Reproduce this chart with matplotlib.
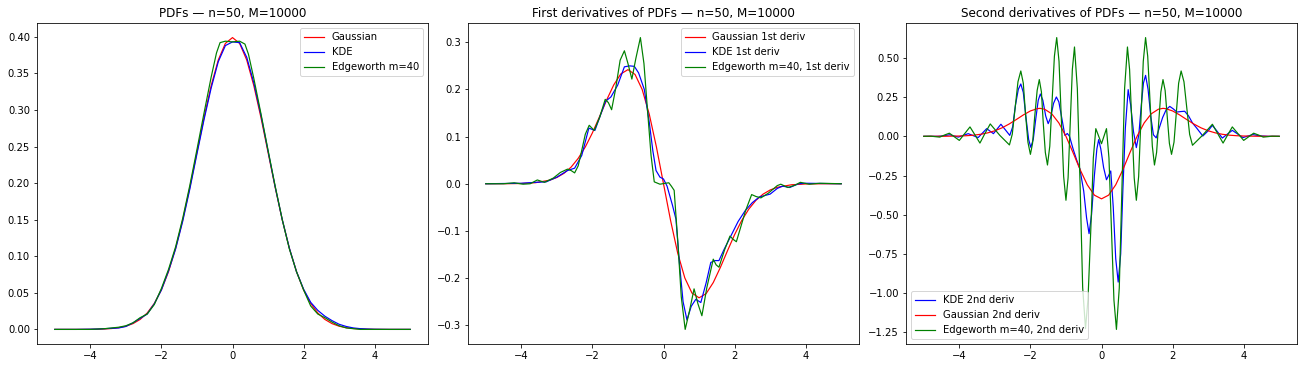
import matplotlib
matplotlib.use("Agg")
import matplotlib.pyplot as plt

# ---- panel 1: PDFs ----
x_pdf = [-5.0, -4.4, -4.0, -3.8, -3.6, -3.4, -3.2, -3.0, -2.8, -2.6, -2.4, -2.2, -2.0, -1.8,
         -1.6, -1.4, -1.2, -1.0, -0.8, -0.6, -0.4, -0.2, 0.0, 0.2, 0.4, 0.6, 0.8, 1.0, 1.2,
         1.4, 1.6, 1.8, 2.0, 2.2, 2.4, 2.6, 2.8, 3.0, 3.2, 3.4, 3.6, 3.8, 4.0, 4.4, 5.0]
gauss_pdf = [0.0, 0.0, 0.0001, 0.0003, 0.0006, 0.0012, 0.0024, 0.0044, 0.0079, 0.0136, 0.0224,
             0.0355, 0.0540, 0.0790, 0.1109, 0.1497, 0.1942, 0.2420, 0.2897, 0.3332, 0.3683,
             0.3910, 0.3989, 0.3910, 0.3683, 0.3332, 0.2897, 0.2420, 0.1942, 0.1497, 0.1109,
             0.0790, 0.0540, 0.0355, 0.0224, 0.0136, 0.0079, 0.0044, 0.0024, 0.0012, 0.0006,
             0.0003, 0.0001, 0.0, 0.0]
kde_pdf = [0.0, 0.0, 0.0003, 0.0005, 0.001, 0.0015, 0.002, 0.004, 0.009, 0.015, 0.021, 0.035,
           0.054, 0.080, 0.110, 0.148, 0.192, 0.240, 0.287, 0.330, 0.366, 0.388, 0.393, 0.392,
           0.372, 0.337, 0.293, 0.244, 0.195, 0.150, 0.111, 0.079, 0.055, 0.037, 0.026, 0.018,
           0.012, 0.007, 0.004, 0.002, 0.001, 0.0005, 0.0002, 0.0, 0.0]
x_edge_pdf = [-5.0, -4.0, -3.6, -3.4, -3.2, -3.0, -2.8, -2.6, -2.4, -2.2, -2.0, -1.8, -1.6,
              -1.4, -1.2, -1.0, -0.8, -0.6, -0.45, -0.35, -0.2, 0.0, 0.2, 0.35, 0.45, 0.6,
              0.8, 1.0, 1.2, 1.4, 1.6, 1.8, 2.0, 2.2, 2.4, 2.6, 2.8, 3.0, 3.2, 3.4, 3.6, 4.0, 5.0]
edge_pdf = [0.0, 0.0, 0.001, 0.002, 0.003, 0.005, 0.009, 0.016, 0.021, 0.034, 0.056, 0.082,
            0.113, 0.152, 0.197, 0.246, 0.296, 0.345, 0.378, 0.392, 0.394, 0.393, 0.394, 0.390,
            0.376, 0.343, 0.295, 0.245, 0.196, 0.150, 0.110, 0.079, 0.054, 0.032, 0.021, 0.016,
            0.010, 0.005, 0.002, 0.001, 0.0, 0.0, 0.0]

# ---- panel 2: first derivatives ----
x_d1 = [-5.0, -4.4, -4.0, -3.6, -3.2, -3.0, -2.8, -2.6, -2.4, -2.2, -2.0, -1.8, -1.6, -1.4,
        -1.2, -1.0, -0.8, -0.6, -0.4, -0.2, 0.0, 0.2, 0.4, 0.6, 0.8, 1.0, 1.2, 1.4, 1.6,
        1.8, 2.0, 2.2, 2.4, 2.6, 2.8, 3.0, 3.2, 3.6, 4.0, 4.4, 5.0]
gauss_d1 = [0.0, 0.0001, 0.0005, 0.0022, 0.0076, 0.0133, 0.0221, 0.0352, 0.0538, 0.0780,
            0.1080, 0.1422, 0.1775, 0.2096, 0.2330, 0.2420, 0.2318, 0.1999, 0.1473, 0.0782,
            0.0, -0.0782, -0.1473, -0.1999, -0.2318, -0.2420, -0.2330, -0.2096, -0.1775,
            -0.1422, -0.1080, -0.0780, -0.0538, -0.0352, -0.0221, -0.0133, -0.0076, -0.0022,
            -0.0005, -0.0001, 0.0]
x_kde_d1 = [-5.0, -4.0, -3.6, -3.3, -3.0, -2.7, -2.5, -2.3, -2.1, -1.93, -1.8, -1.63, -1.48,
            -1.29, -1.10, -0.95, -0.82, -0.7, -0.54, -0.4, -0.3, -0.21, -0.1, 0.0, 0.1, 0.25,
            0.35, 0.45, 0.55, 0.66, 0.78, 0.91, 1.05, 1.2, 1.33, 1.45, 1.56, 1.7, 1.9, 2.1,
            2.3, 2.5, 2.7, 3.0, 3.2, 3.35, 3.55, 3.8, 4.0, 5.0]
kde_d1 = [0.0, 0.001, 0.003, 0.004, 0.014, 0.028, 0.033, 0.06, 0.118, 0.113, 0.14, 0.175,
          0.184, 0.209, 0.248, 0.25, 0.249, 0.235, 0.20, 0.13, 0.07, 0.028, 0.014, 0.01,
          -0.005, -0.045, -0.075, -0.17, -0.25, -0.289, -0.26, -0.245, -0.252, -0.21, -0.167,
          -0.163, -0.163, -0.14, -0.11, -0.08, -0.057, -0.04, -0.028, -0.022, -0.01, -0.005,
          -0.008, 0.0, 0.001, 0.0]
x_edge_d1 = [-5.0, -4.5, -4.2, -3.95, -3.75, -3.55, -3.35, -3.1, -2.9, -2.7, -2.6, -2.5, -2.4,
             -2.32, -2.2, -2.09, -1.95, -1.8, -1.64, -1.55, -1.46, -1.35, -1.22, -1.10, -1.0,
             -0.89, -0.78, -0.65, -0.55, -0.45, -0.35, -0.26, -0.1, 0.05, 0.15, 0.22, 0.30,
             0.40, 0.50, 0.61, 0.73, 0.86, 0.97, 1.08, 1.22, 1.40, 1.48, 1.56, 1.72, 1.87,
             1.96, 2.05, 2.18, 2.31, 2.48, 2.6, 2.74, 2.95, 3.2, 3.3, 3.5, 3.7, 3.85, 4.1,
             4.4, 5.0]
edge_d1 = [0.0, 0.0, 0.002, -0.001, 0.0, 0.008, 0.003, 0.012, 0.024, 0.031, 0.028, 0.023,
           0.038, 0.064, 0.105, 0.124, 0.113, 0.14, 0.179, 0.172, 0.157, 0.2, 0.262, 0.282,
           0.255, 0.222, 0.265, 0.31, 0.255, 0.156, 0.06, 0.004, -0.001, 0.001, 0.002, -0.005,
           -0.014, -0.12, -0.24, -0.309, -0.27, -0.223, -0.255, -0.28, -0.22, -0.16, -0.172,
           -0.177, -0.14, -0.111, -0.118, -0.123, -0.09, -0.057, -0.023, -0.027, -0.030,
           -0.02, -0.004, -0.001, -0.008, -0.003, 0.003, -0.001, 0.001, 0.0]

# ---- panel 3: second derivatives ----
x_d2 = [-5.0, -4.4, -4.0, -3.8, -3.6, -3.4, -3.2, -3.0, -2.8, -2.6, -2.4, -2.2, -2.0, -1.8,
        -1.73, -1.6, -1.4, -1.2, -1.0, -0.8, -0.6, -0.4, -0.2, 0.0, 0.2, 0.4, 0.6, 0.8, 1.0,
        1.2, 1.4, 1.6, 1.73, 1.8, 2.0, 2.2, 2.4, 2.6, 2.8, 3.0, 3.2, 3.4, 3.6, 3.8, 4.0,
        4.4, 5.0]
gauss_d2 = [0.0, 0.0005, 0.0020, 0.0039, 0.0073, 0.0130, 0.0221, 0.0355, 0.0541, 0.0783,
            0.1067, 0.1363, 0.1620, 0.1769, 0.1785, 0.1730, 0.1437, 0.0854, 0.0, -0.1043,
            -0.2133, -0.3094, -0.3754, -0.3989, -0.3754, -0.3094, -0.2133, -0.1043, 0.0,
            0.0854, 0.1437, 0.1730, 0.1785, 0.1769, 0.1620, 0.1363, 0.1067, 0.0783, 0.0541,
            0.0355, 0.0221, 0.0130, 0.0073, 0.0039, 0.0020, 0.0005, 0.0]
x_kde_d2 = [-5.0, -4.6, -4.45, -4.27, -4.03, -3.75, -3.47, -3.23, -3.04, -2.83, -2.58, -2.5,
            -2.42, -2.34, -2.27, -2.2, -2.13, -2.05, -1.99, -1.92, -1.85, -1.78, -1.72, -1.65,
            -1.57, -1.50, -1.43, -1.35, -1.27, -1.2, -1.12, -1.03, -0.96, -0.9, -0.8, -0.7,
            -0.61, -0.5, -0.42, -0.35, -0.28, -0.2, -0.13, -0.08, -0.02, 0.06, 0.14, 0.2,
            0.26, 0.33, 0.40, 0.47, 0.54, 0.6, 0.67, 0.75, 0.82, 0.9, 0.98, 1.05, 1.12, 1.18,
            1.24, 1.31, 1.39, 1.46, 1.54, 1.62, 1.72, 1.82, 1.92, 2.02, 2.12, 2.23, 2.34,
            2.45, 2.56, 2.67, 2.85, 3.0, 3.12, 3.26, 3.40, 3.54, 3.68, 3.83, 3.98, 4.12,
            4.26, 4.45, 4.7, 5.0]
kde_d2 = [0.0, 0.0, 0.003, 0.01, -0.005, 0.017, -0.008, 0.049, 0.017, 0.077, 0.006, 0.06,
          0.2, 0.3, 0.334, 0.28, 0.13, -0.02, -0.07, -0.02, 0.11, 0.23, 0.27, 0.23, 0.13,
          0.081, 0.12, 0.21, 0.251, 0.22, 0.12, 0.006, 0.018, 0.0, -0.08, -0.15, -0.206,
          -0.35, -0.52, -0.621, -0.5, -0.25, -0.08, -0.021, -0.08, -0.2, -0.277, -0.25,
          -0.221, -0.45, -0.78, -0.93, -0.75, -0.35, 0.05, 0.298, 0.2, 0.03, -0.072, 0.01,
          0.2, 0.34, 0.389, 0.3, 0.12, 0.01, -0.01, 0.05, 0.12, 0.17, 0.191, 0.175, 0.155,
          0.158, 0.16, 0.13, 0.085, 0.055, 0.002, 0.035, 0.07, 0.03, -0.011, 0.014, 0.038,
          0.015, -0.008, 0.002, 0.011, 0.003, 0.0, 0.0]
x_edge_d2 = [-5.0, -4.8, -4.68, -4.55, -4.42, -4.28, -4.14, -4.0, -3.85, -3.70, -3.56, -3.42,
             -3.28, -3.13, -2.86, -2.59, -2.51, -2.43, -2.35, -2.27, -2.20, -2.14, -2.07,
             -2.0, -1.94, -1.88, -1.81, -1.75, -1.69, -1.64, -1.58, -1.52, -1.455, -1.39,
             -1.325, -1.26, -1.195, -1.13, -1.065, -1.0, -0.94, -0.88, -0.82, -0.76, -0.68,
             -0.60, -0.53, -0.45, -0.38, -0.30, -0.23, -0.16, -0.08, 0.0, 0.07, 0.14, 0.21,
             0.28, 0.35, 0.42, 0.50, 0.575, 0.65, 0.73, 0.79, 0.855, 0.92, 0.98, 1.045, 1.11,
             1.175, 1.24, 1.30, 1.365, 1.43, 1.49, 1.55, 1.61, 1.67, 1.73, 1.79, 1.85, 1.91,
             1.97, 2.04, 2.105, 2.17, 2.24, 2.32, 2.40, 2.48, 2.56, 2.84, 3.12, 3.27, 3.42,
             3.55, 3.68, 3.84, 4.0, 4.14, 4.28, 4.42, 4.55, 4.68, 4.8, 5.0]
edge_d2 = [0.0, 0.001, -0.002, -0.005, 0.008, 0.02, -0.003, -0.026, 0.017, 0.06, 0.009,
           -0.043, 0.018, 0.079, 0.006, -0.055, 0.014, 0.181, 0.348, 0.417, 0.339, 0.151,
           -0.037, -0.115, -0.045, 0.124, 0.293, 0.362, 0.283, 0.09, -0.103, -0.183, -0.063,
           0.224, 0.511, 0.63, 0.478, 0.111, -0.256, -0.408, -0.265, 0.081, 0.427, 0.57,
           0.306, -0.329, -0.964, -1.227, -1.04, -0.589, -0.138, 0.049, 0.001, -0.047, 0.001,
           0.049, -0.139, -0.592, -1.045, -1.232, -0.968, -0.331, 0.306, 0.57, 0.427, 0.081,
           -0.265, -0.408, -0.256, 0.111, 0.478, 0.63, 0.511, 0.224, -0.063, -0.183, -0.103,
           0.09, 0.283, 0.362, 0.293, 0.124, -0.045, -0.115, -0.037, 0.151, 0.339, 0.417,
           0.348, 0.18, 0.012, -0.057, 0.006, 0.077, 0.017, -0.043, 0.009, 0.06, 0.017,
           -0.026, -0.003, 0.02, 0.008, -0.005, -0.002, 0.001, 0.0]


def main():
    fig = plt.figure(figsize=(1304 / 72, 368 / 72), dpi=72)
    bottom, height, width = 24 / 368, 321 / 368, 391 / 1304
    ax1 = fig.add_axes([37 / 1304, bottom, width, height])
    ax2 = fig.add_axes([468 / 1304, bottom, width, height])
    ax3 = fig.add_axes([906 / 1304, bottom, width, height])

    ax1.plot(x_pdf, gauss_pdf, color="red", lw=1.2, label="Gaussian")
    ax1.plot(x_pdf, kde_pdf, color="blue", lw=1.2, label="KDE")
    ax1.plot(x_edge_pdf, edge_pdf, color="green", lw=1.2, label="Edgeworth m=40")
    ax1.set_title("PDFs \u2014 n=50, M=10000")
    ax1.legend(loc="upper right")

    ax2.plot(x_d1, gauss_d1, color="red", lw=1.2, label="Gaussian 1st deriv")
    ax2.plot(x_kde_d1, kde_d1, color="blue", lw=1.2, label="KDE 1st deriv")
    ax2.plot(x_edge_d1, edge_d1, color="green", lw=1.2, label="Edgeworth m=40, 1st deriv")
    ax2.set_title("First derivatives of PDFs \u2014 n=50, M=10000")
    ax2.legend(loc="upper right")

    ax3.plot(x_kde_d2, kde_d2, color="blue", lw=1.2, label="KDE 2nd deriv")
    ax3.plot(x_d2, gauss_d2, color="red", lw=1.2, label="Gaussian 2nd deriv")
    ax3.plot(x_edge_d2, edge_d2, color="green", lw=1.2, label="Edgeworth m=40, 2nd deriv")
    ax3.set_title("Second derivatives of PDFs \u2014 n=50, M=10000")
    ax3.legend(loc="lower left")

    fig.savefig("out.png", dpi=72)


if __name__ == "__main__":
    main()
